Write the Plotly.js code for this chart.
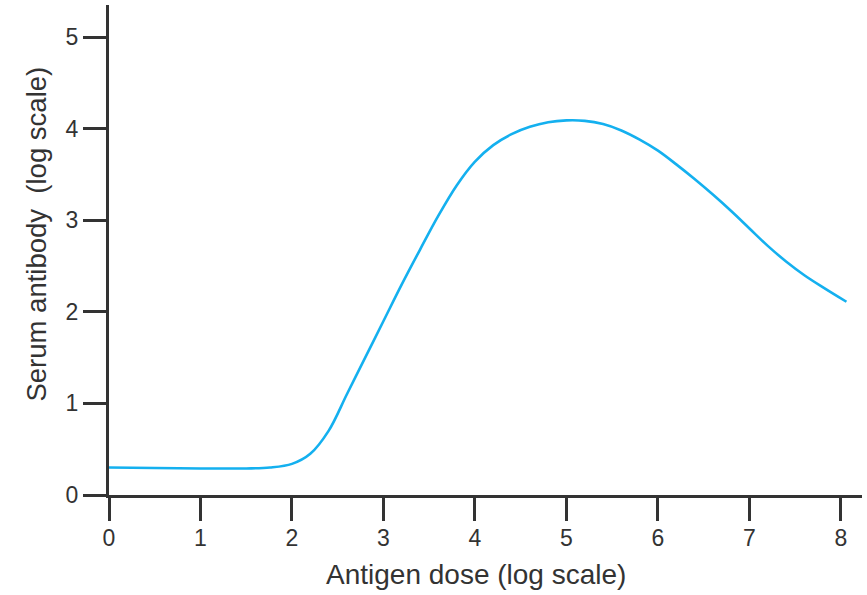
<!DOCTYPE html>
<html>
<head>
<meta charset="utf-8">
<script src="https://cdn.plot.ly/plotly-3.0.1.min.js"></script>
<style>html,body{margin:0;padding:0;background:#fff;}#chart{width:867px;height:595px;}</style>
</head>
<body>
<div id="chart"></div>
<script>
var doseLog = [0, 0.5, 1.0, 1.5, 1.76, 2.0, 2.2, 2.4, 2.6, 2.8, 3.0, 3.2, 3.4, 3.6, 3.8, 4.0, 4.2, 4.4, 4.6, 4.8, 5.0, 5.2, 5.4, 5.6, 5.8, 6.0, 6.2, 6.4, 6.6, 6.8, 7.0, 7.2, 7.4, 7.6, 7.8, 8.06];
var antibodyLog = [0.30, 0.295, 0.29, 0.29, 0.30, 0.34, 0.45, 0.70, 1.10, 1.50, 1.90, 2.30, 2.68, 3.05, 3.38, 3.64, 3.82, 3.94, 4.02, 4.07, 4.09, 4.085, 4.05, 3.98, 3.88, 3.76, 3.61, 3.45, 3.28, 3.10, 2.91, 2.72, 2.55, 2.40, 2.27, 2.11];
var xTicks = [0, 1, 2, 3, 4, 5, 6, 7, 8];
var yTicks = [0, 1, 2, 3, 4, 5];
var xTitle = 'Antigen dose (log scale)';
var yTitle = 'Serum antibody\u00a0\u00a0(log scale)';

var axisColor = '#333333';
var fontFam = 'Liberation Sans, Arial, sans-serif';

var trace = {
  x: doseLog, y: antibodyLog, type: 'scatter', mode: 'lines',
  line: {color: 'rgb(20,176,239)', width: 2.6, shape: 'spline', smoothing: 1},
  hoverinfo: 'skip'
};

var layout = {
  width: 867, height: 595,
  margin: {l: 109, r: 5, t: 5, b: 100, pad: 0},
  paper_bgcolor: '#ffffff', plot_bgcolor: '#ffffff',
  showlegend: false,
  font: {family: fontFam, color: axisColor},
  xaxis: {
    range: [0, 8.23], tickvals: xTicks, ticktext: xTicks.map(String),
    showgrid: false, zeroline: false, showline: true, linecolor: axisColor, linewidth: 3,
    ticks: 'outside', ticklen: 23, tickwidth: 3, tickcolor: axisColor,
    ticklabelstandoff: -3,
    tickfont: {size: 23, color: axisColor, family: fontFam}
  },
  yaxis: {
    range: [0, 5.35], tickvals: yTicks, ticktext: yTicks.map(String),
    showgrid: false, zeroline: false, showline: true, linecolor: axisColor, linewidth: 3,
    ticks: 'outside', ticklen: 23, tickwidth: 3, tickcolor: axisColor,
    tickfont: {size: 23, color: axisColor, family: fontFam}
  },
  annotations: [{
    text: yTitle, textangle: -90, showarrow: false,
    xref: 'paper', yref: 'paper', x: -0.096, y: 0.533, xanchor: 'center', yanchor: 'middle',
    font: {size: 27.5, color: axisColor, family: fontFam}
  }, {
    text: xTitle, showarrow: false,
    xref: 'paper', yref: 'paper', x: 0.487, y: -0.163, xanchor: 'center', yanchor: 'middle',
    font: {size: 28, color: axisColor, family: fontFam}
  }]
};

Plotly.newPlot('chart', [trace], layout, {staticPlot: true, displayModeBar: false});
</script>
</body>
</html>
